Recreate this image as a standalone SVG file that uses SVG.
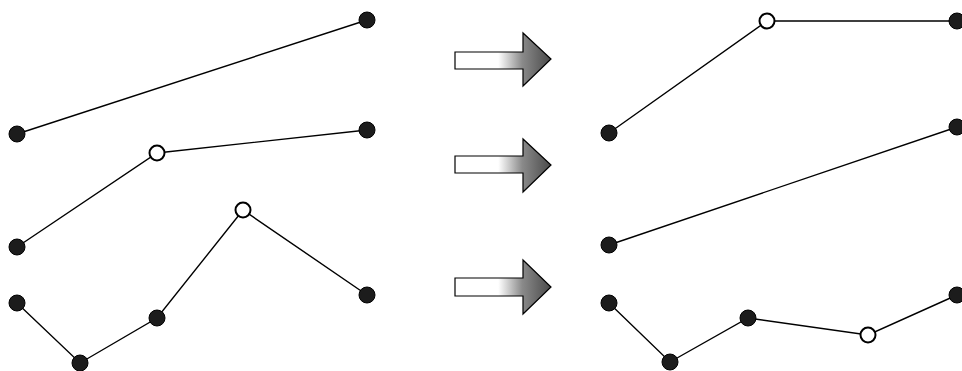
<svg xmlns="http://www.w3.org/2000/svg" width="962" height="371" viewBox="0 0 962 371">
<defs>
<linearGradient id="g" gradientUnits="objectBoundingBox" x1="0" y1="0" x2="1" y2="0">
<stop offset="0" stop-color="#ffffff"/>
<stop offset="0.45" stop-color="#ffffff"/>
<stop offset="0.7" stop-color="#8a8a8a"/>
<stop offset="1" stop-color="#4a4a4a"/>
</linearGradient>
</defs>
<style>
.e{stroke:#000;stroke-width:1.4;fill:none}
.f{fill:#1c1c1c;stroke:#000;stroke-width:1}
.o{fill:#fff;stroke:#000;stroke-width:2}
.a{fill:url(#g);stroke:#000;stroke-width:1.2;stroke-linejoin:miter}
</style>
<rect width="962" height="371" fill="#fff"/>
<g id="connectors">
<polyline class="e" points="17,134 367,20"/>
<polyline class="e" points="17,247 157,153 367,130"/>
<polyline class="e" points="17,303 80,363 157,318 243,210 367,295"/>
<polyline class="e" points="609,133 767,21 957,21"/>
<polyline class="e" points="609,245 957,127"/>
<polyline class="e" points="609,303 670,362 748,318 868,335 957,295"/>
</g>
<g id="arrow1"><polygon class="a" points="455,52 523,52 523,33 551,59 523,86 523,69 455,69"/></g>
<g id="arrow2"><polygon class="a" points="455,156 523,156 523,139 551,165 523,192 523,173 455,173"/></g>
<g id="arrow3"><polygon class="a" points="455,278 523,278 523,260 551,287 523,314 523,296 455,296"/></g>
<g id="n1"><circle class="f" cx="17" cy="134" r="8"/></g>
<g id="n2"><circle class="f" cx="367" cy="20" r="8"/></g>
<g id="n3"><circle class="f" cx="17" cy="247" r="8"/></g>
<g id="n4"><circle class="o" cx="157" cy="153" r="7.5"/></g>
<g id="n5"><circle class="f" cx="367" cy="130" r="8"/></g>
<g id="n6"><circle class="f" cx="17" cy="303" r="8"/></g>
<g id="n7"><circle class="f" cx="80" cy="363" r="8"/></g>
<g id="n8"><circle class="f" cx="157" cy="318" r="8"/></g>
<g id="n9"><circle class="o" cx="243" cy="210" r="7.5"/></g>
<g id="n10"><circle class="f" cx="367" cy="295" r="8"/></g>
<g id="n11"><circle class="f" cx="609" cy="133" r="8"/></g>
<g id="n12"><circle class="o" cx="767" cy="21" r="7.5"/></g>
<g id="n13"><circle class="f" cx="957" cy="21" r="8"/></g>
<g id="n14"><circle class="f" cx="609" cy="245" r="8"/></g>
<g id="n15"><circle class="f" cx="957" cy="127" r="8"/></g>
<g id="n16"><circle class="f" cx="609" cy="303" r="8"/></g>
<g id="n17"><circle class="f" cx="670" cy="362" r="8"/></g>
<g id="n18"><circle class="f" cx="748" cy="318" r="8"/></g>
<g id="n19"><circle class="o" cx="868" cy="335" r="7.5"/></g>
<g id="n20"><circle class="f" cx="957" cy="295" r="8"/></g>
</svg>
